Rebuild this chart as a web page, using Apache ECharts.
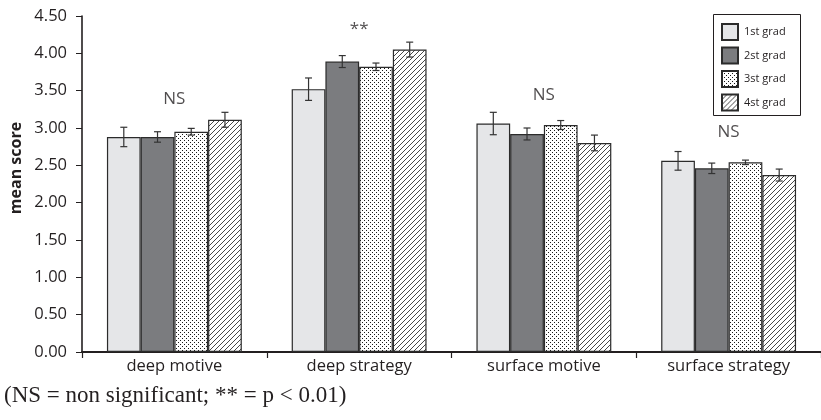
<!DOCTYPE html>
<html><head><meta charset="utf-8">
<script src="https://cdn.jsdelivr.net/npm/echarts@6/dist/echarts.min.js"></script>
<style>html,body{margin:0;padding:0;background:#fff}#c{width:821px;height:420px}</style>
</head><body><div id="c"></div>
<script>
// ---- data ----
const categories = ['deep motive', 'deep strategy', 'surface motive', 'surface strategy'];
const seriesNames = ['1st grad', '2st grad', '3st grad', '4st grad'];
const grad1 = [2.88, 3.52, 3.06, 2.56];
const grad2 = [2.88, 3.89, 2.92, 2.46];
const grad3 = [2.95, 3.82, 3.04, 2.54];
const grad4 = [3.11, 4.05, 2.80, 2.37];
const err1 = [0.13, 0.15, 0.15, 0.125];
const err2 = [0.07, 0.08, 0.08, 0.07];
const err3 = [0.045, 0.05, 0.06, 0.03];
const err4 = [0.10, 0.10, 0.105, 0.08];
const sigLabels = ['NS', '**', 'NS', 'NS'];
const sigY = [3.39, 4.32, 3.44, 2.95];
const yTicks = [0, 0.5, 1, 1.5, 2, 2.5, 3, 3.5, 4, 4.5];
const footnote = '(NS = non significant; ** = p < 0.01)';

const values = [grad1, grad2, grad3, grad4];
const errors = [err1, err2, err3, err4];

// ---- patterns ----
function dotPattern() {
  const c = document.createElement('canvas'); c.width = 4; c.height = 4;
  const x = c.getContext('2d');
  x.fillStyle = '#fff'; x.fillRect(0, 0, 4, 4);
  x.fillStyle = '#1a1a1a';
  x.fillRect(0, 0, 1, 1); x.fillRect(2, 2, 1, 1);
  return c;
}
function hatchPattern() {
  const s = 5;
  const c = document.createElement('canvas'); c.width = s; c.height = s;
  const x = c.getContext('2d');
  x.fillStyle = '#fff'; x.fillRect(0, 0, s, s);
  x.strokeStyle = '#333'; x.lineWidth = 0.9;
  [[0, s, s, 0], [-1, 1, 1, -1], [s - 1, s + 1, s + 1, s - 1]].forEach(l => {
    x.beginPath(); x.moveTo(l[0], l[1]); x.lineTo(l[2], l[3]); x.stroke();
  });
  return c;
}
const fills = ['#e5e6e8', '#7b7c7f', { image: dotPattern(), repeat: 'repeat' }, { image: hatchPattern(), repeat: 'repeat' }];

const CAT_GAP = 0.27;
const series = seriesNames.map((n, i) => ({
  name: n, type: 'bar', data: values[i], barGap: '0%', barCategoryGap: (CAT_GAP * 100) + '%',
  itemStyle: { color: fills[i], borderColor: '#2b2b2b', borderWidth: 1.2 },
  emphasis: { disabled: true }
}));

const errData = [];
values.forEach((arr, si) => arr.forEach((v, ci) => errData.push([ci, v, errors[si][ci], si])));
series.push({
  type: 'custom', silent: true, z: 5,
  data: errData, encode: { x: 0, y: 1 },
  renderItem: function (params, api) {
    const ci = api.value(0), v = api.value(1), e = api.value(2), si = api.value(3);
    const band = api.size([1, 0])[0];
    const bw = band * (1 - CAT_GAP) / 4;
    const c = api.coord([ci, v]);
    const cx = c[0] + (si - 1.5) * bw;
    const top = api.coord([ci, v + e])[1], bot = api.coord([ci, v - e])[1];
    const hw = 3.5;
    const st = { stroke: '#333', lineWidth: 1.2 };
    return { type: 'group', children: [
      { type: 'line', shape: { x1: cx, y1: top, x2: cx, y2: bot }, style: st },
      { type: 'line', shape: { x1: cx - hw, y1: top, x2: cx + hw, y2: top }, style: st },
      { type: 'line', shape: { x1: cx - hw, y1: bot, x2: cx + hw, y2: bot }, style: st }
    ]};
  }
});
series.push({
  type: 'scatter', symbolSize: 0, silent: true,
  data: sigLabels.map((t, i) => [i, sigY[i]]),
  label: { show: true, position: 'inside', formatter: p => sigLabels[p.dataIndex],
    fontFamily: 'Open Sans', color: '#231f20', fontSize: 17 }
});

const chart = echarts.init(document.getElementById('c'), null, { renderer: 'canvas' });
chart.setOption({
  animation: false,
  backgroundColor: '#fff',
  grid: { left: 82, right: -6, top: 16, bottom: 68, containLabel: false },
  legend: {
    data: seriesNames, orient: 'vertical', left: 721, top: 23, icon: 'rect',
    itemWidth: 16, itemHeight: 16, itemGap: 5.5, padding: 0,
    textStyle: { fontFamily: 'Open Sans', fontSize: 11, color: '#231f20', padding: [0, 0, 0, 1] },
    selectedMode: false
  },
  xAxis: {
    type: 'category', data: categories,
    axisLine: { lineStyle: { color: '#231f20', width: 2 } },
    axisTick: { show: true, length: 6, lineStyle: { color: '#231f20', width: 1.2 } },
    axisLabel: { fontFamily: 'Open Sans', fontSize: 16.5, color: '#231f20', margin: 6 }
  },
  yAxis: {
    type: 'value', min: 0, max: 4.5, interval: 0.5,
    axisLine: { show: true, lineStyle: { color: '#231f20', width: 1.6 } },
    axisTick: { show: true, length: 6, lineStyle: { color: '#231f20', width: 1 } },
    splitLine: { show: false },
    axisLabel: { fontFamily: 'Open Sans', fontSize: 16.5, color: '#231f20', margin: 15,
      formatter: v => (yTicks.indexOf(v) >= 0 ? v.toFixed(2) : '') }
  },
  graphic: [
    { type: 'rect', shape: { x: 713.5, y: 14.5, width: 87, height: 101 }, style: { fill: 'none', stroke: '#231f20', lineWidth: 1 }, silent: true },
    { type: 'text', x: 16, y: 168, rotation: Math.PI / 2,
      style: { text: 'mean score', font: 'bold 16px "Open Sans"', fill: '#231f20', align: 'center', verticalAlign: 'middle' } },
    { type: 'text', x: 4, y: 396,
      style: { text: footnote, font: '23px "Liberation Serif"', fill: '#231f20', align: 'left', verticalAlign: 'middle' } }
  ],
  series: series
});
</script></body></html>
